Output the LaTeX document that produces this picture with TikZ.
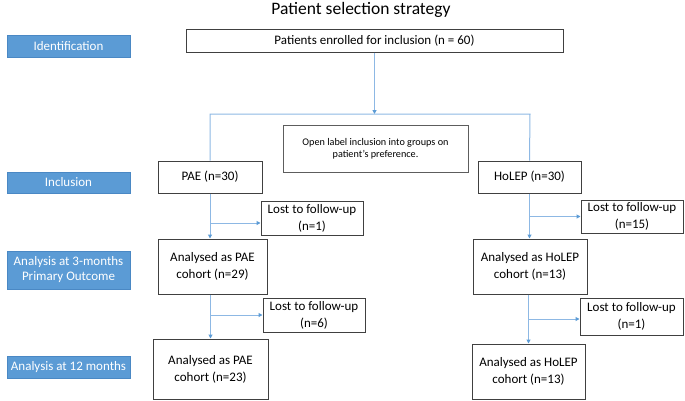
\documentclass[tikz,border=0pt]{standalone}
\usepackage{fontspec}
\setmainfont{Carlito}
\usetikzlibrary{arrows.meta}

\definecolor{stageblue}{HTML}{5B9BD5}
\definecolor{stageedge}{HTML}{4A88C4}
\definecolor{linkblue}{HTML}{8DB8E4}
\definecolor{tipblue}{HTML}{5B9BD5}
\definecolor{boxgray}{HTML}{404040}

\begin{document}
\begin{tikzpicture}[x=1pt,y=-1pt,
    stage/.style={fill=stageblue, draw=stageedge, line width=0.8pt, text=white,
        minimum width=123pt, inner sep=0pt, align=center,
        font=\fontsize{13}{15}\selectfont},
    box/.style={draw=boxgray, line width=1pt, inner sep=0pt, align=center,
        font=\fontsize{13}{17}\selectfont},
    link/.style={draw=linkblue, line width=1pt},
    flow/.style={link, -{Triangle[length=4pt,width=4pt,color=tipblue]}}]
    \useasboundingbox (0,0) rectangle (685,400);

    % Title
    \node[font=\fontsize{17.5}{20}\selectfont] (title) at (361,10) {Patient selection strategy};

    % Stages on the left
    \node[stage, minimum height=22pt] (ident) at (68.5,46) {Identification};
    \node[stage, minimum height=21pt] (incl) at (68.5,182.5) {Inclusion};
    \node[stage, minimum height=38pt] (ana3) at (68.5,270) {Analysis at 3-months\\Primary Outcome};
    \node[stage, minimum height=22pt] (ana12) at (68.5,367) {Analysis at 12 months};

    % Enrolment and allocation
    \node[box, minimum width=377pt, minimum height=23pt] (enrolled) at (374.5,40.5) {Patients enrolled for inclusion (n = 60)};
    \node[box, draw=boxgray!85, minimum width=185pt, minimum height=47pt,
        font=\fontsize{10.2}{12}\selectfont] (openlabel) at (375.5,148.5)
        {Open label inclusion into groups on\\patient’s preference.};
    \node[box, minimum width=104pt, minimum height=32pt] (pae) at (210,177) {PAE (n=30)};
    \node[box, minimum width=103pt, minimum height=32pt] (holep) at (529.5,177) {HoLEP (n=30)};

    % Follow-up
    \node[box, minimum width=102pt, minimum height=34pt] (lostpae3) at (312,218) {Lost to follow-up\\(n=1)};
    \node[box, minimum width=102pt, minimum height=33pt] (lostholep3) at (632,216.5) {Lost to follow-up\\(n=15)};
    \node[box, minimum width=109pt, minimum height=55pt] (paecoh) at (212.5,266.5) {Analysed as PAE\\cohort (n=29)};
    \node[box, minimum width=114pt, minimum height=55pt] (holepcoh) at (530,266.5) {Analysed as HoLEP\\cohort (n=13)};
    \node[box, minimum width=102pt, minimum height=34pt] (lostpae12) at (314,315) {Lost to follow-up\\(n=6)};
    \node[box, minimum width=103pt, minimum height=37pt] (lostholep12) at (631.5,316.5) {Lost to follow-up\\(n=1)};
    \node[box, minimum width=115pt, minimum height=60pt] (paefin) at (210.5,369) {Analysed as PAE\\cohort (n=23)};
    \node[box, minimum width=113pt, minimum height=55pt] (holepfin) at (528.5,371.5) {Analysed as HoLEP\\cohort (n=13)};

    % Split into the two groups
    \coordinate (splitL) at (210,114);
    \coordinate (splitR) at (530,114);
    \draw[flow] (enrolled.south) -- (enrolled.south |- splitL);
    \draw[link] (pae.north) -- (splitL) -- (splitR) -- (holep.north);

    % PAE arm
    \draw[flow] (pae.south) -- (pae.south |- paecoh.north);
    \draw[flow] (pae.south |- lostpae3.west) ++(0,5) -- ([yshift=-5pt]lostpae3.west);
    \draw[flow] (paefin.north |- paecoh.south) -- (paefin.north);
    \draw[flow] (paefin.north |- lostpae12.west) -- (lostpae12.west);

    % HoLEP arm
    \draw[flow] (holep.south) -- (holep.south |- holepcoh.north);
    \draw[flow] (holep.south |- lostholep3.west) -- (lostholep3.west);
    \draw[flow] (holepfin.north |- holepcoh.south) -- (holepfin.north);
    \draw[flow] (holepfin.north |- lostholep12.west) ++(0,2.5) -- ([yshift=-2.5pt]lostholep12.west);
\end{tikzpicture}
\end{document}
